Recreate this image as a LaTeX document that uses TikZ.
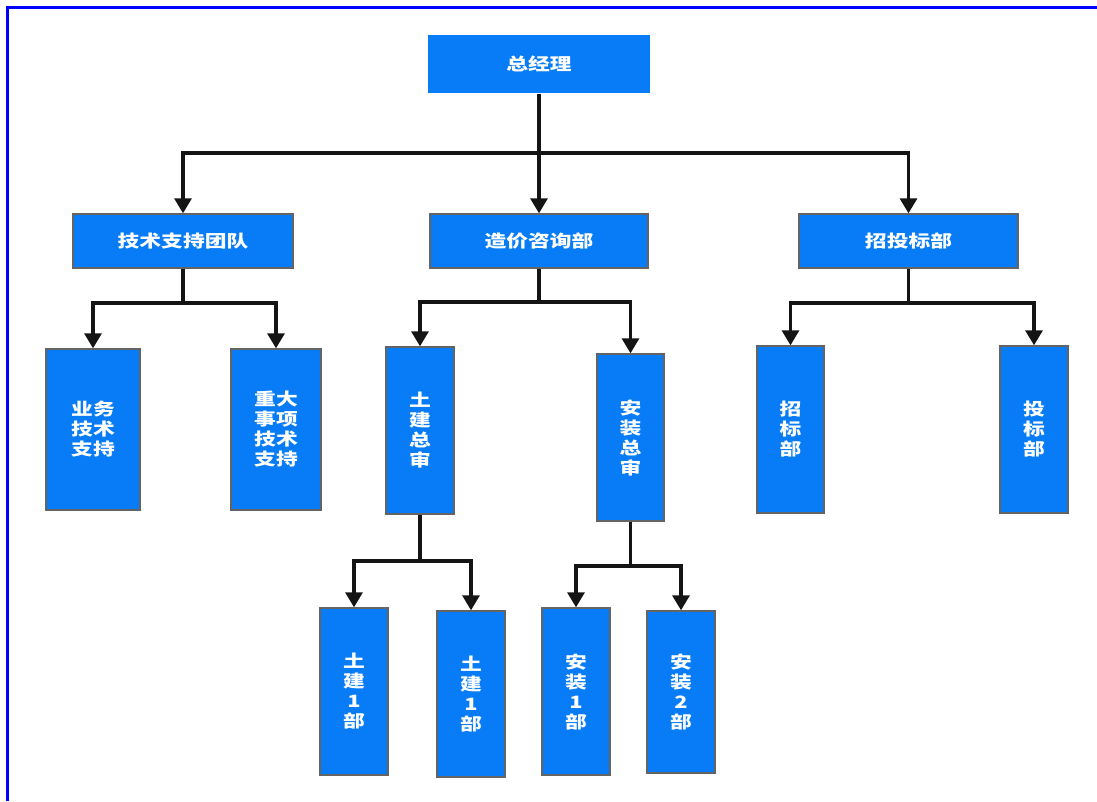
\documentclass[tikz,border=0pt]{standalone}
\usepackage{fontspec}
\newfontfamily\cjk{Noto Sans CJK SC}[FakeStretch=1.28]
\usetikzlibrary{arrows.meta}
\definecolor{boxblue}{RGB}{8,124,246}
\definecolor{boxedge}{RGB}{100,100,100}
\definecolor{frameblue}{RGB}{0,0,255}
\tikzset{
  box/.style={draw=boxedge, line width=1.4pt, fill=boxblue, text=white, inner sep=0pt,
    font=\cjk\bfseries\fontsize{17}{20}\selectfont, align=center},
  hbox/.style={box},
  topbox/.style={hbox, draw=none},
  conn/.style={draw=black!92, line width=3.2pt},
  arr/.style={conn, -{Triangle[width=17pt,length=15pt]}},
}
\begin{document}
\begin{tikzpicture}[x=1pt,y=-1pt]
\useasboundingbox (0,0) rectangle (1097,801);
\draw[frameblue, line width=3pt] (7,801) -- (7,7) -- (1097,7);

\node[topbox, minimum width=222pt, minimum height=58pt] (ceo) at (539,64) {总经理};

\node[hbox, minimum width=220pt, minimum height=54pt] (tech) at (183,241) {技术支持团队};
\node[hbox, minimum width=218pt, minimum height=54pt] (cost) at (539,241) {造价咨询部};
\node[hbox, minimum width=219pt, minimum height=54pt] (bid) at (908.5,241) {招投标部};

\node[box, minimum width=94pt, minimum height=161pt] (yw) at (93,429.5) {业务\\技术\\支持};
\node[box, minimum width=90pt, minimum height=161pt] (zd) at (276,429.5) {重大\\事项\\技术\\支持};
\node[box, minimum width=68pt, minimum height=167pt] (tj) at (420,430.5) {土\\建\\总\\审};
\node[box, minimum width=67pt, minimum height=167pt] (az) at (630.5,437.5) {安\\装\\总\\审};
\node[box, minimum width=67pt, minimum height=167pt] (zb) at (790.5,429.5) {招\\标\\部};
\node[box, minimum width=68pt, minimum height=167pt] (tb) at (1034,429.5) {投\\标\\部};

\node[box, minimum width=68pt, minimum height=167pt] (tj1) at (354,691.5) {土\\建\\1\\部};
\node[box, minimum width=68pt, minimum height=166pt] (tj2) at (471,694) {土\\建\\1\\部};
\node[box, minimum width=68pt, minimum height=167pt] (az1) at (576,691.5) {安\\装\\1\\部};
\node[box, minimum width=68pt, minimum height=162pt] (az2) at (681,692) {安\\装\\2\\部};

\coordinate (j1) at (539,153);
\coordinate (j2) at (183,303);
\coordinate (j3) at (539,302);
\coordinate (j4) at (908.5,303);
\coordinate (j5) at (420,561);
\coordinate (j6) at (630.5,566);

\draw[conn] (ceo.south) -- (j1);
\draw[arr] (j1) -| (tech.north);
\draw[arr] (j1) -- (cost.north);
\draw[arr] (j1) -| (bid.north);

\draw[conn] (tech.south) -- (j2);
\draw[arr] (j2) -| (yw.north);
\draw[arr] (j2) -| (zd.north);

\draw[conn] (cost.south) -- (j3);
\draw[arr] (j3) -| (tj.north);
\draw[arr] (j3) -| (az.north);

\draw[conn] (bid.south) -- (j4);
\draw[arr] (j4) -| (zb.north);
\draw[arr] (j4) -| (tb.north);

\draw[conn] (tj.south) -- (j5);
\draw[arr] (j5) -| (tj1.north);
\draw[arr] (j5) -| (tj2.north);

\draw[conn] (az.south) -- (j6);
\draw[arr] (j6) -| (az1.north);
\draw[arr] (j6) -| (az2.north);
\end{tikzpicture}
\end{document}
